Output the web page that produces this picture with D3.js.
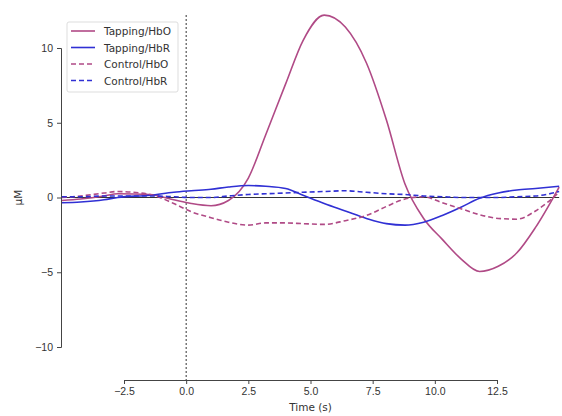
<!DOCTYPE html>
<html>
<head>
<meta charset="utf-8">
<script src="https://cdn.jsdelivr.net/npm/d3@7"></script>
<style>
  body { margin: 0; background: #fff; }
  svg { font-family: "DejaVu Sans", sans-serif; }
  .axis text { fill: #333; font-size: 10.5px; }
  .axis path, .axis line { stroke: #444; }
</style>
</head>
<body>
<div id="chart"></div>
<script>
// time points (s) and averaged responses (µM)
const times = [-5, -4.25, -3.3, -2.75, -1.45, -0.5, 0.2, 1, 1.7, 2.5, 3.2, 4, 4.7, 5.55, 6.4, 7.25, 8.05, 8.8, 9.55, 10.3, 11.05, 11.8, 12.55, 13.3, 14.05, 15];
const tappingHbO = [-0.2, -0.1, 0.1, 0.25, 0.2, -0.15, -0.4, -0.55, -0.2, 1.3, 4.2, 7.6, 10.5, 12.2, 11.4, 9.0, 5.2, 0.9, -1.4, -2.8, -4.1, -4.95, -4.6, -3.7, -2.0, 0.7];
const tappingHbR = [-0.35, -0.3, -0.15, 0.0, 0.15, 0.35, 0.45, 0.55, 0.7, 0.8, 0.75, 0.6, 0.15, -0.4, -0.9, -1.4, -1.75, -1.85, -1.65, -1.2, -0.65, -0.05, 0.3, 0.5, 0.6, 0.75];
const controlHbO = [0.0, 0.1, 0.3, 0.4, 0.2, -0.4, -0.95, -1.35, -1.65, -1.85, -1.7, -1.7, -1.75, -1.8, -1.55, -1.2, -0.6, -0.1, 0.05, -0.35, -0.75, -1.15, -1.4, -1.45, -0.9, 0.35];
const controlHbR = [0.05, 0.05, 0.1, 0.1, 0.1, 0.05, 0.0, 0.0, 0.1, 0.2, 0.25, 0.3, 0.35, 0.4, 0.45, 0.35, 0.25, 0.2, 0.1, 0.05, 0.0, 0.0, 0.0, 0.05, 0.1, 0.4];

const seriesNames = ["Tapping/HbO", "Tapping/HbR", "Control/HbO", "Control/HbR"];
const xTicks = [-2.5, 0, 2.5, 5, 7.5, 10, 12.5];
const yTicks = [-10, -5, 0, 5, 10];

const width = 562, height = 416;

const series = [
  { name: seriesNames[0], values: tappingHbO, color: "#b04a86", dash: null },
  { name: seriesNames[1], values: tappingHbR, color: "#3030d4", dash: null },
  { name: seriesNames[2], values: controlHbO, color: "#b04a86", dash: "5,3" },
  { name: seriesNames[3], values: controlHbR, color: "#3030d4", dash: "5,3" }
];

const xScale = d3.scaleLinear().domain([-2.5, 12.5]).range([124, 497]);
const yScale = d3.scaleLinear().domain([-10, 10]).range([347, 48]);

const svg = d3.select("#chart").append("svg")
    .attr("width", width)
    .attr("height", height);

// zero line
svg.append("line")
    .attr("x1", xScale(times[0])).attr("x2", xScale(times[times.length - 1]))
    .attr("y1", yScale(0)).attr("y2", yScale(0))
    .attr("stroke", "#333").attr("stroke-width", 1);

// stimulus onset
svg.append("line")
    .attr("x1", xScale(0)).attr("x2", xScale(0))
    .attr("y1", 15).attr("y2", 380)
    .attr("stroke", "#333").attr("stroke-width", 1)
    .attr("stroke-dasharray", "2,2");

const line = d3.line()
    .x((d, i) => xScale(times[i]))
    .y(d => yScale(d))
    .curve(d3.curveMonotoneX);

svg.selectAll(".series")
    .data(series)
    .enter().append("path")
    .attr("class", "series")
    .attr("d", d => line(d.values))
    .attr("fill", "none")
    .attr("stroke", d => d.color)
    .attr("stroke-width", 1.6)
    .attr("stroke-dasharray", d => d.dash);

// axes (trimmed spines)
const xAxis = svg.append("g")
    .attr("class", "axis")
    .attr("transform", "translate(0,380)")
    .call(d3.axisBottom(xScale).tickValues(xTicks).tickFormat(d3.format(".1f")).tickSizeOuter(0).tickSize(4).tickPadding(4));
xAxis.selectAll("text").text(d => d3.format(".1f")(d).replace("-", "\u2212"));

const yAxis = svg.append("g")
    .attr("class", "axis")
    .attr("transform", "translate(61,0)")
    .call(d3.axisLeft(yScale).tickValues(yTicks).tickSizeOuter(0).tickSize(4).tickPadding(4));
yAxis.selectAll("text").text(d => String(d).replace("-", "\u2212"));

svg.append("text")
    .attr("x", xScale(5)).attr("y", 411)
    .attr("text-anchor", "middle")
    .attr("fill", "#333")
    .style("font-size", "10.5px")
    .text("Time (s)");

svg.append("text")
    .attr("transform", "translate(22," + yScale(0) + ") rotate(-90)")
    .attr("text-anchor", "middle")
    .attr("fill", "#333")
    .style("font-size", "10.5px")
    .text("µM");

// legend
const legend = svg.append("g").attr("transform", "translate(67,22)");
legend.append("rect")
    .attr("width", 111).attr("height", 70)
    .attr("rx", 2)
    .attr("fill", "#fff")
    .attr("stroke", "#ddd");

series.forEach(function(s, i) {
    const row = legend.append("g").attr("transform", "translate(0," + (9 + i * 16.5) + ")");
    row.append("line")
        .attr("x1", 4).attr("x2", 28)
        .attr("stroke", s.color)
        .attr("stroke-width", 1.6)
        .attr("stroke-dasharray", s.dash);
    row.append("text")
        .attr("x", 37).attr("y", 4)
        .attr("fill", "#333")
        .style("font-size", "10.5px")
        .text(s.name);
});
</script>
</body>
</html>
